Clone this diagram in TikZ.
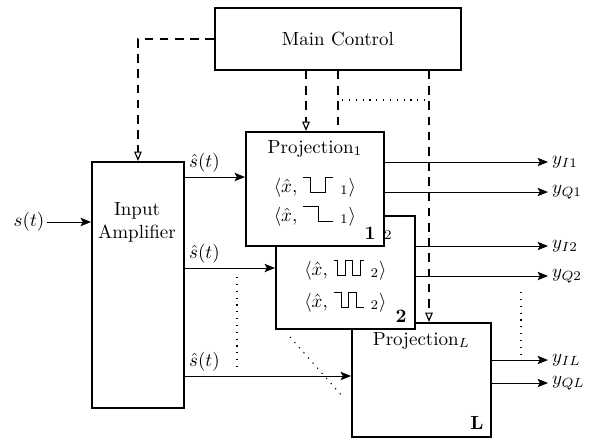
\documentclass[tikz,border=0pt]{standalone}
\usetikzlibrary{arrows.meta,calc}
\newlength\pxu \setlength\pxu{0.526pt}
\newcommand\wavepic[1]{\tikz[baseline=0pt,x=1pt,y=1pt]\draw[line width=0.45pt,solid] #1;}
\tikzset{
 blk/.style={draw, line width=1pt, fill=white, inner sep=0pt, anchor=north west},
 sig/.style={line width=0.5pt, -{Stealth[length=5.5pt,width=4.4pt,inset=1.2pt]}},
 ctrl/.style={line width=0.6pt, dash pattern=on 4.5pt off 3.5pt},
 ctrlarrow/.style={ctrl, -{Triangle[open,length=5pt,width=4pt,line width=0.6pt]}},
 dots/.style={line width=0.6pt, dash pattern=on 0.6pt off 3pt},
 num/.style={font=\bfseries, inner sep=0pt, anchor=south east},
 ttl/.style={anchor=base, inner sep=0pt},
 outl/.style={anchor=west, inner sep=2pt},
 inl/.style={anchor=south west, inner sep=2pt},
}
\begin{document}
\begin{tikzpicture}[x=0.526pt,y=-0.526pt]
\useasboundingbox (0,0) rectangle (597,440);

% main control and amplifier
\node[blk, minimum width=246\pxu, minimum height=62\pxu] (mc) at (214,7) {Main Control};
\node[blk, minimum width=92\pxu, minimum height=246\pxu] (amp) at (91,161) {};
\node[align=center, inner sep=0pt] (ampt) at (137,222) {Input\\Amplifier};

% input signal
\node[inner sep=1pt] (s) at (29,222) {$s(t)$};
\draw[sig] (s.east) -- (s.east -| amp.west);

% control from main control to amplifier
\draw[ctrlarrow] (mc.west) -| (amp.north);

% Projection L
\node[blk, minimum width=139\pxu, minimum height=114\pxu] (pL) at (351,322) {};
\node[ttl] (pLt) at ($(pL.north)+(0,23)$) {Projection$_L$};
\node[num] (pLn) at ($(pL.south east)+(-8,-8)$) {L};
\coordinate (k3) at (429,0);
\draw[ctrlarrow] (k3 |- mc.south) -- (k3 |- pL.north);

% Projection 2
\node[blk, minimum width=139\pxu, minimum height=113\pxu] (p2) at (275,215) {};
\node[ttl] (p2t) at ($(p2.north)+(0,22)$) {Projection$_2$};
\node[ttl] (p2a) at ($(p2.north)+(0,60)$) {$\langle\hat{x},\;$\wavepic{(0,7.5)--(2,7.5)--(2,0)--(6,0)--(6,7.5)--(10,7.5)--(10,0)--(14,0)--(14,7.5)--(16,7.5)}$\,\,{}_2\rangle$};
\node[ttl] (p2b) at ($(p2.north)+(0,92)$) {$\langle\hat{x},\;$\wavepic{(0,7.5)--(4,7.5)--(4,0)--(8,0)--(8,7.5)--(12,7.5)--(12,0)--(16,0)}$\,\,{}_2\rangle$};
\node[num] (p2n) at ($(p2.south east)+(-9,-7)$) {2};
\draw[ctrlarrow] (mc.south) -- (mc.south |- p2.north);

% Projection 1
\node[blk, minimum width=138\pxu, minimum height=114\pxu] (p1) at (245,131) {};
\node[ttl] (p1t) at ($(p1.north)+(0,22)$) {Projection$_1$};
\node[ttl] (p1a) at ($(p1.north)+(0,61)$) {$\langle\hat{x},\;$\wavepic{(0,7.5)--(4,7.5)--(4,0)--(12,0)--(12,7.5)--(16,7.5)}$\,\,{}_1\rangle$};
\node[ttl] (p1b) at ($(p1.north)+(0,90)$) {$\langle\hat{x},\;$\wavepic{(0,7.5)--(8,7.5)--(8,0)--(16,0)}$\,\,{}_1\rangle$};
\node[num] (p1n) at ($(p1.south east)+(-9,-7)$) {1};
\coordinate (k1) at (306,0);
\draw[ctrlarrow] (k1 |- mc.south) -- (k1 |- p1.north);

% dotted between control lines
\coordinate (d1) at (342,100);
\coordinate (d2) at (425,100);
\draw[dots] (d1) -- (d2);

% amplifier outputs
\coordinate (r1) at (0,177);
\coordinate (r2) at (0,268);
\coordinate (r3) at (0,376);
\draw[sig] (amp.east |- r1) -- (p1.west |- r1) node[pos=0, inl] {$\hat{s}(t)$};
\draw[sig] (amp.east |- r2) -- (p2.west |- r2) node[pos=0, inl] {$\hat{s}(t)$};
\draw[sig] (amp.east |- r3) -- (pL.west |- r3) node[pos=0, inl] {$\hat{s}(t)$};

% dotted continuation marks
\coordinate (v1) at (237,277);
\coordinate (v2) at (237,370);
\draw[dots] (v1) -- (v2);
\coordinate (g1) at (290,337);
\coordinate (g2) at (343,397);
\draw[dots] (g1) -- (g2);
\coordinate (w1) at (521,292);
\coordinate (w2) at (521,355);
\draw[dots] (w1) -- (w2);

% outputs
\node[outl] (yI1) at (548,162) {$y_{I1}$};
\node[outl] (yQ1) at (548,192) {$y_{Q1}$};
\node[outl] (yI2) at (548,246) {$y_{I2}$};
\node[outl] (yQ2) at (548,276) {$y_{Q2}$};
\node[outl] (yIL) at (548,360) {$y_{IL}$};
\node[outl] (yQL) at (548,383) {$y_{QL}$};
\draw[sig] (p1.east |- yI1) -- (yI1.west);
\draw[sig] (p1.east |- yQ1) -- (yQ1.west);
\draw[sig] (p2.east |- yI2) -- (yI2.west);
\draw[sig] (p2.east |- yQ2) -- (yQ2.west);
\draw[sig] (pL.east |- yIL) -- (yIL.west);
\draw[sig] (pL.east |- yQL) -- (yQL.west);
\end{tikzpicture}
\end{document}
